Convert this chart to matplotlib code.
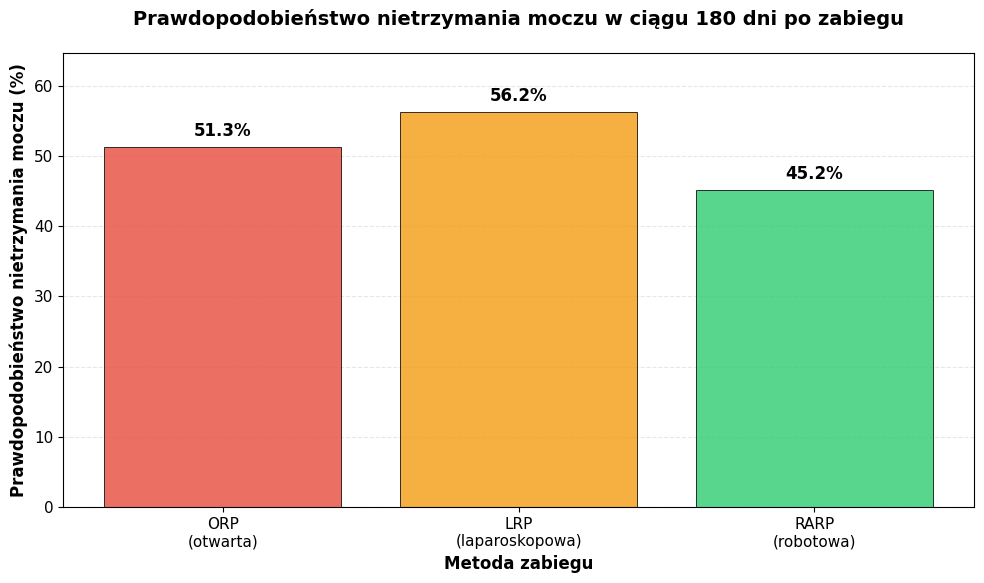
import matplotlib
matplotlib.use("Agg")
import matplotlib.pyplot as plt

methods = ['ORP\n(otwarta)', 'LRP\n(laparoskopowa)', 'RARP\n(robotowa)']
probabilities = [51.3, 56.2, 45.2]
colors = ['#e74c3c', '#f39c12', '#2ecc71']

fig, ax = plt.subplots(figsize=(9.84, 5.83), dpi=100)
fig.subplots_adjust(left=0.064, right=0.99, top=0.909, bottom=0.13)

bars = ax.bar(methods, probabilities, color=colors, alpha=0.8,
              edgecolor='black', linewidth=0.7, width=0.8)

for bar, p in zip(bars, probabilities):
    ax.text(bar.get_x() + bar.get_width() / 2, bar.get_height() + 1,
            f'{p:.1f}%', ha='center', va='bottom', fontsize=12, fontweight='bold')

ax.set_ylim(0, max(probabilities) * 1.15)
ax.set_xlabel('Metoda zabiegu', fontsize=12, fontweight='bold')
ax.set_ylabel('Prawdopodobieństwo nietrzymania moczu (%)', fontsize=12, fontweight='bold')
ax.set_title('Prawdopodobieństwo nietrzymania moczu w ciągu 180 dni po zabiegu',
             fontsize=14, fontweight='bold', pad=20)
ax.tick_params(axis='both', labelsize=11)
ax.grid(axis='y', linestyle='--', alpha=0.3)
ax.set_axisbelow(True)

fig.savefig('out.png', dpi=100)
